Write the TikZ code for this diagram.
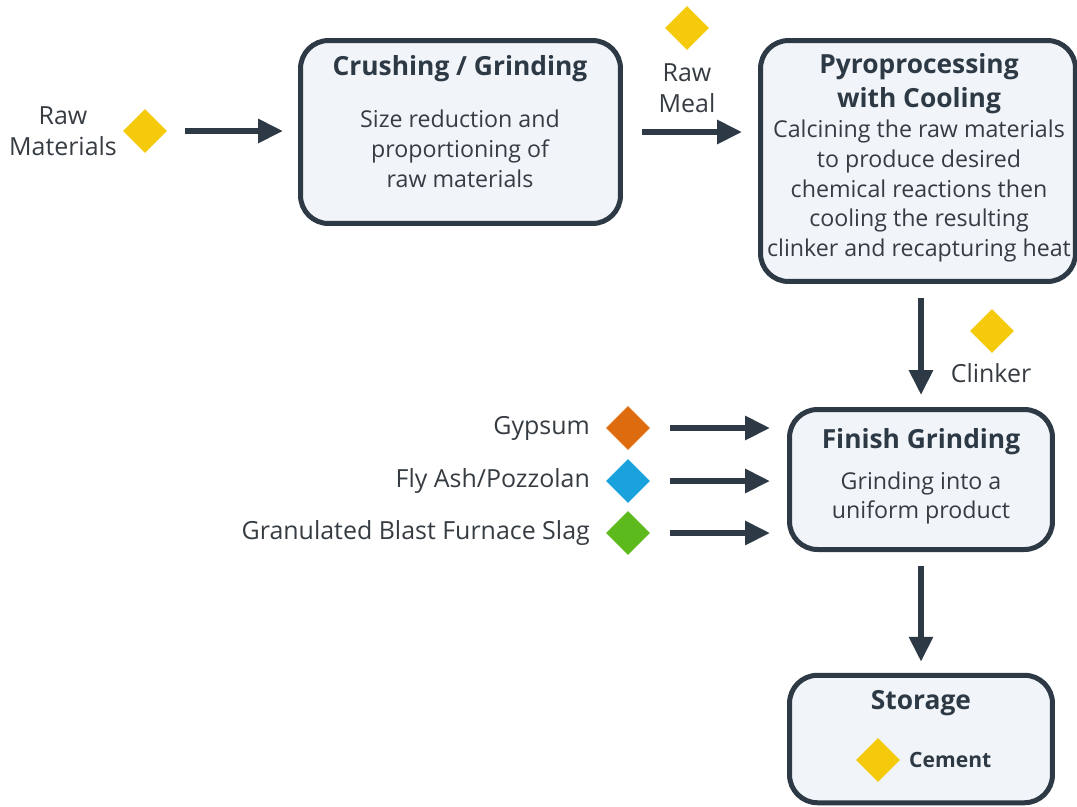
\documentclass[tikz,border=0pt]{standalone}
\usepackage{fontspec}
\setmainfont{Open Sans}
\usepackage{tikz}
\usetikzlibrary{shapes, arrows.meta, positioning, calc}
\definecolor{slate}{HTML}{2D3A46}
\definecolor{ink}{HTML}{363C42}
\definecolor{boxfill}{HTML}{F1F4F8}
\definecolor{gold}{HTML}{F4CA0B}
\definecolor{rust}{HTML}{DE6B0E}
\definecolor{sky}{HTML}{19A2DC}
\definecolor{leaf}{HTML}{5DBA1C}
\tikzset{
    block/.style={rectangle, draw=slate, line width=0.1cm, rounded corners=0.56cm, fill=boxfill},
    arrow/.style={draw=slate, line width=0.12cm, -{Triangle[length=0.5cm, width=0.46cm]}},
    gem/.style={diamond, fill=#1, minimum width=0.88cm, minimum height=0.88cm, inner sep=0pt},
    title/.style={font=\fontsize{15}{19.5}\selectfont\bfseries, text=slate, align=center},
    body/.style={font=\fontsize{13.2}{17}\selectfont, text=ink, align=center},
    label/.style={font=\fontsize{14.2}{17.6}\selectfont, text=ink, align=center}
}
\begin{document}
\begin{tikzpicture}[x=0.02cm, y=-0.02cm]
            \useasboundingbox (0,0) rectangle (1077,806);

            % process boxes
            \node[block, minimum width=6.4cm, minimum height=3.66cm] (crush) at (460.5,132) {};
            \node[block, minimum width=6.3cm, minimum height=4.82cm] (pyro) at (918,161) {};
            \node[block, minimum width=5.26cm, minimum height=2.8cm] (finish) at (921,479.5) {};
            \node[block, minimum width=5.26cm, minimum height=2.55cm] (storage) at (921,739) {};

            \node[title] at (460,69) {Crushing / Grinding};
            \node[body] at (460,149) {Size reduction and\\proportioning of\\raw materials};
            \node[title] at (919,84) {Pyroprocessing\\with Cooling};
            \node[body] at (919,191) {Calcining the raw materials\\to produce desired\\chemical reactions then\\cooling the resulting\\clinker and recapturing heat};
            \node[title] at (921,442) {Finish Grinding};
            \node[body] at (921,498) {Grinding into a\\uniform product};
            \node[title] at (921,703) {Storage};

            % materials
            \node[gem=gold] (raw) at (145,131) {};
            \node[label] at (63,131) {Raw\\Materials};
            \node[gem=gold] (meal) at (687,28) {};
            \node[label] at (687,88) {Raw\\Meal};
            \node[gem=gold] (clinker) at (992,331) {};
            \node[label] at (991,373) {Clinker};
            \node[gem=rust] (gypsum) at (628,428) {};
            \node[label, anchor=east] at (596,428) {Gypsum};
            \node[gem=sky] (flyash) at (628,481) {};
            \node[label, anchor=east] at (596,481) {Fly Ash/Pozzolan};
            \node[gem=leaf] (slag) at (628,533) {};
            \node[label, anchor=east] at (596,533) {Granulated Blast Furnace Slag};
            \node[gem=gold] (cement) at (878,760) {};
            \node[font=\fontsize{12}{15}\selectfont\bfseries, text=slate, anchor=west] at (903,760) {Cement};

            \path[arrow, shorten <=0.36cm, shorten >=0.3cm] (raw) -- (raw -| crush.west);
            \path[arrow, shorten <=0.38cm, shorten >=0.32cm] (crush.east) -- (crush.east -| pyro.west);
            \path[arrow, shorten <=0.28cm, shorten >=0.24cm] (pyro.south -| finish.north) -- (finish.north);
            \path[arrow, shorten <=0.4cm, shorten >=0.34cm] (gypsum) -- (gypsum -| finish.west);
            \path[arrow, shorten <=0.4cm, shorten >=0.34cm] (flyash) -- (flyash -| finish.west);
            \path[arrow, shorten <=0.4cm, shorten >=0.34cm] (slag) -- (slag -| finish.west);
            \path[arrow, shorten <=0.28cm, shorten >=0.22cm] (finish.south) -- (storage.north);
        \end{tikzpicture}
\end{document}
